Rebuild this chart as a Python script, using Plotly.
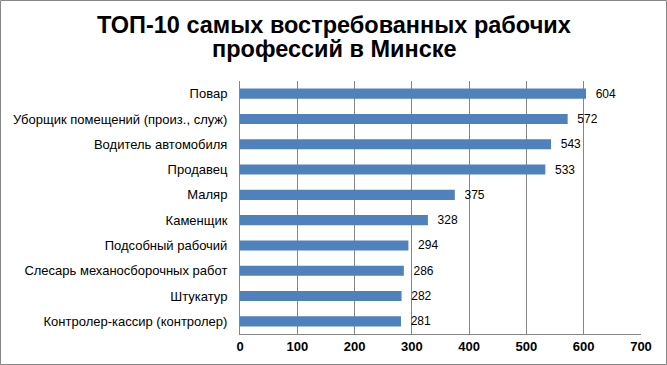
import plotly.graph_objects as go

categories = ["Повар", "Уборщик помещений (произ., служ)", "Водитель автомобиля",
              "Продавец", "Маляр", "Каменщик", "Подсобный рабочий",
              "Слесарь механосборочных работ", "Штукатур", "Контролер-кассир (контролер)"]
values = [604, 572, 543, 533, 375, 328, 294, 286, 282, 281]
x_ticks = [0, 100, 200, 300, 400, 500, 600, 700]
title_lines = ["ТОП-10 самых востребованных рабочих", "профессий в Минске"]

FONT = "Liberation Sans, Arial, sans-serif"

fig = go.Figure(go.Bar(
    x=values, y=categories, orientation="h",
    marker=dict(color="#4F81BD", line=dict(width=0)),
    text=["\u00a0\u00a0" + str(v) for v in values], textposition="outside",
    constraintext="none",
    textfont=dict(family=FONT, size=12, color="#000000"),
    cliponaxis=False,
))

W, H = 667, 365
L, R, T, B = 240, 26, 81, 31
pw, ph = W - L - R, H - T - B

def px_to_py(p):
    return (H - B - p) / ph

def px_to_px(p):
    return (p - L) / pw

annotations = [
    dict(text="<b>" + title_lines[0] + "</b>", xref="paper", yref="paper",
         x=px_to_px(334), y=px_to_py(25.5), xanchor="center", yanchor="middle",
         showarrow=False, font=dict(family=FONT, size=23.5, color="#000000")),
    dict(text="<b>" + title_lines[1] + "</b>", xref="paper", yref="paper",
         x=px_to_px(334), y=px_to_py(48.5), xanchor="center", yanchor="middle",
         showarrow=False, font=dict(family=FONT, size=23.5, color="#000000")),
]

fig.update_layout(
    width=W, height=H,
    margin=dict(l=L, r=R, t=T, b=B, autoexpand=False),
    paper_bgcolor="white", plot_bgcolor="white",
    bargap=0.6,
    showlegend=False,
    annotations=annotations,
    xaxis=dict(range=[0, 700], tickvals=x_ticks, showgrid=True, gridcolor="#868686",
               gridwidth=1, zeroline=False, showline=True, linecolor="#868686",
               ticks="", automargin=False, ticklabelstandoff=0,
               tickfont=dict(family=FONT, size=13, color="#000000", weight="bold")),
    yaxis=dict(range=[9.5, -0.5], showgrid=False, zeroline=False, showline=True,
               linecolor="#868686", ticks="", ticklabelstandoff=9, automargin=False,
               tickfont=dict(family=FONT, size=13, color="#000000")),
    shapes=[dict(type="rect", xref="paper", yref="paper",
                 x0=px_to_px(0.5), x1=px_to_px(W - 0.5),
                 y0=px_to_py(H - 0.5), y1=px_to_py(0.5),
                 line=dict(color="#868686", width=1), fillcolor="rgba(0,0,0,0)")],
)

fig.write_html("out.html", config={"displayModeBar": False},
               post_script="document.body.style.margin='0';document.body.style.overflow='hidden';")
